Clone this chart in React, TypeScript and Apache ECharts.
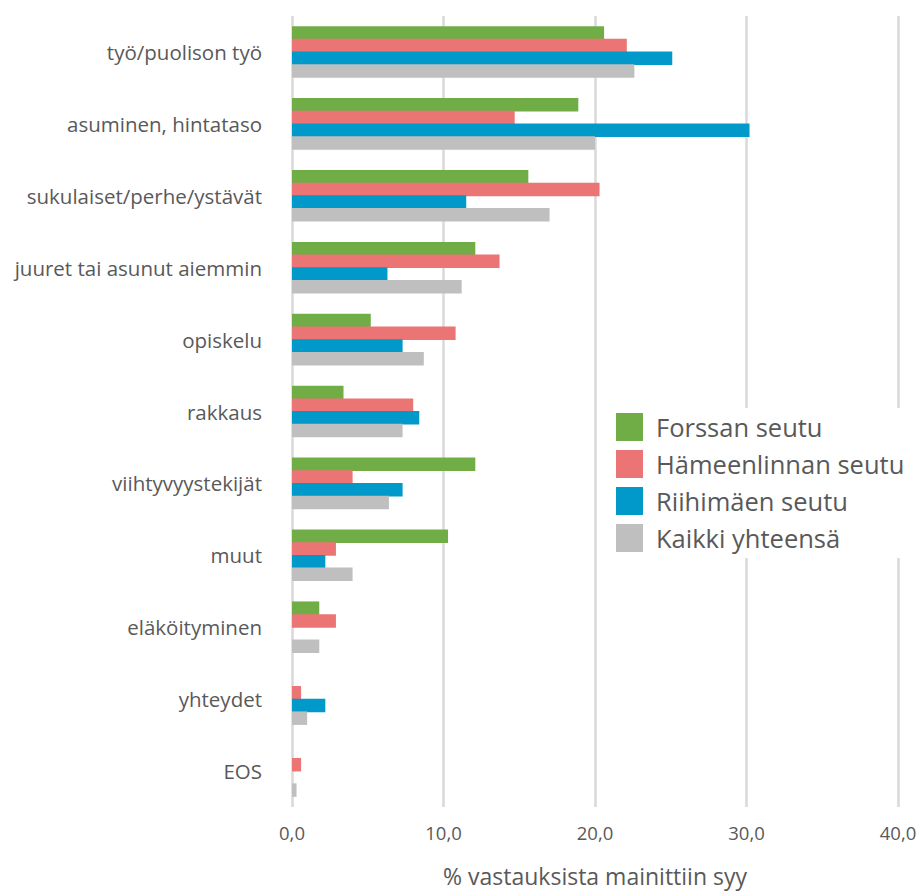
import React, { useEffect, useRef } from "react";
import * as echarts from "echarts";

const categories = [
  "työ/puolison työ",
  "asuminen, hintataso",
  "sukulaiset/perhe/ystävät",
  "juuret tai asunut aiemmin",
  "opiskelu",
  "rakkaus",
  "viihtyvyystekijät",
  "muut",
  "eläköityminen",
  "yhteydet",
  "EOS",
];
const seriesNames = ["Forssan seutu", "Hämeenlinnan seutu", "Riihimäen seutu", "Kaikki yhteensä"];
const forssa = [20.6, 18.9, 15.6, 12.1, 5.2, 3.4, 12.1, 10.3, 1.8, 0, 0];
const hameenlinna = [22.1, 14.7, 20.3, 13.7, 10.8, 8.0, 4.0, 2.9, 2.9, 0.6, 0.6];
const riihimaki = [25.1, 30.2, 11.5, 6.3, 7.3, 8.4, 7.3, 2.2, 0, 2.2, 0];
const kaikki = [22.6, 20.0, 17.0, 11.2, 8.7, 7.3, 6.4, 4.0, 1.8, 1.0, 0.3];
const colors = ["#70AD47", "#EB7575", "#0099CA", "#BFBFBF"];
const axisTitle = "% vastauksista mainittiin syy";

const FONT = "Open Sans";

export default function App() {
  const ref = useRef<HTMLDivElement>(null);
  useEffect(() => {
    if (!ref.current) return;
    const chart = echarts.init(ref.current, null, { renderer: "svg" });
    const data = [forssa, hameenlinna, riihimaki, kaikki];
    chart.setOption({
      animation: false,
      backgroundColor: "#ffffff",
      textStyle: { fontFamily: FONT },
      grid: { left: 292, right: 24, top: 16, bottom: 84, containLabel: false },
      legend: {
        orient: "vertical",
        left: 602,
        top: 408,
        padding: [5, 20, 6, 14],
        itemGap: 9,
        itemWidth: 27,
        itemHeight: 28,
        backgroundColor: "#ffffff",
        icon: "rect",
        textStyle: { fontSize: 25.5, color: "#595959", fontFamily: FONT, padding: [0, 0, 0, 8] },
        data: seriesNames,
      },
      xAxis: {
        type: "value",
        min: 0,
        max: 40,
        interval: 10,
        axisLine: { show: false },
        axisTick: { show: false },
        axisLabel: {
          fontSize: 18.5,
          color: "#595959",
          margin: 16,
          fontFamily: FONT,
          formatter: (v: number) => v.toFixed(1).replace(".", ","),
        },
        splitLine: { show: true, lineStyle: { color: "#D9D9D9", width: 2.5 } },
        name: axisTitle,
        nameLocation: "middle",
        nameGap: 57,
        nameTextStyle: { fontSize: 23, color: "#595959", fontFamily: FONT },
      },
      yAxis: {
        type: "category",
        inverse: true,
        data: categories,
        axisLine: { show: false },
        axisTick: { show: false },
        axisLabel: { fontSize: 20.5, color: "#595959", margin: 30, fontFamily: FONT },
      },
      series: data.map((d, i) => ({
        name: seriesNames[i],
        type: "bar",
        data: d,
        barWidth: 13.5,
        barGap: "-6%",
        itemStyle: { color: colors[i] },
      })),
    });
    return () => chart.dispose();
  }, []);
  return <div ref={ref} style={{ width: 922, height: 892, position: "absolute", left: 0, top: 0 }} />;
}
